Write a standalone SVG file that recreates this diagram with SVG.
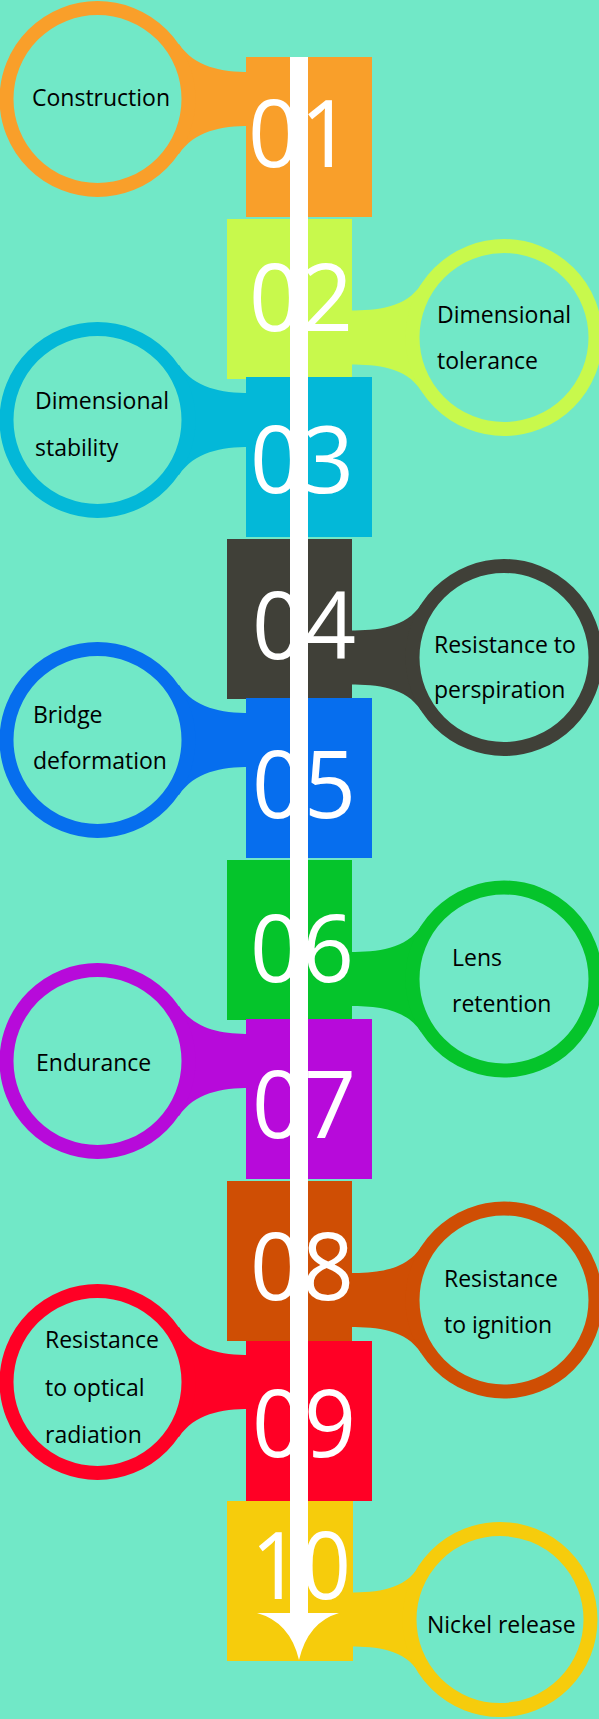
<svg xmlns="http://www.w3.org/2000/svg" width="599" height="1719" viewBox="0 0 599 1719">
<style>
.bg{fill:#71E8C7}
.ring{fill:#71E8C7;stroke-width:14}
.num{font-family:"Open Sans","Liberation Sans",sans-serif;font-size:94px;fill:#ffffff;text-anchor:middle}
.lbl{font-family:"Open Sans","Liberation Sans",sans-serif;font-size:23px;fill:#000000}
</style>
<rect class="bg" x="0" y="0" width="599" height="1719"/>

<g id="node01">
<path fill="#F99F2A" d="M250,72 C221,72 194.7,67.2 179,44 L150,59 L150,139 L179,154 C194.7,130.8 221,126 250,126 Z"/>
<circle class="ring" stroke="#F99F2A" cx="97.5" cy="99" r="91"/>
<rect fill="#F99F2A" x="246" y="57" width="126" height="160"/>
<text class="num" x="300" y="167" textLength="104" lengthAdjust="spacingAndGlyphs">01</text>
<text class="lbl" x="32" y="106">Construction</text>
</g>

<g id="node02">
<path fill="#C8F94C" d="M350,310.5 C377,310.5 406,308 421,284.5 L450,297.5 L450,377.5 L421,390.5 C406,367 377,364.5 350,364.5 Z"/>
<circle class="ring" stroke="#C8F94C" cx="504" cy="337.5" r="91.5"/>
<rect fill="#C8F94C" x="227" y="219" width="125" height="160"/>
<text class="num" x="301" y="331" textLength="104" lengthAdjust="spacingAndGlyphs">02</text>
<text class="lbl" x="437" y="323">Dimensional</text>
<text class="lbl" x="437" y="369">tolerance</text>
</g>

<g id="node03">
<path fill="#03B8D8" d="M250,393 C221,393 194.7,388.2 179,365 L150,380 L150,460 L179,475 C194.7,451.8 221,447 250,447 Z"/>
<circle class="ring" stroke="#03B8D8" cx="97.5" cy="420" r="91"/>
<rect fill="#03B8D8" x="246" y="377" width="126" height="160"/>
<text class="num" x="302" y="493" textLength="104" lengthAdjust="spacingAndGlyphs">03</text>
<text class="lbl" x="35" y="409">Dimensional</text>
<text class="lbl" x="35" y="456">stability</text>
</g>

<g id="node04">
<path fill="#404038" d="M350,630.5 C377,630.5 406,628 421,604.5 L450,617.5 L450,697.5 L421,710.5 C406,687 377,684.5 350,684.5 Z"/>
<circle class="ring" stroke="#404038" cx="504" cy="657.5" r="91.5"/>
<rect fill="#404038" x="227" y="539" width="125" height="160"/>
<text class="num" x="304" y="659" textLength="104" lengthAdjust="spacingAndGlyphs">04</text>
<text class="lbl" x="434" y="653">Resistance to</text>
<text class="lbl" x="434" y="698">perspiration</text>
</g>

<g id="node05">
<path fill="#066EEE" d="M250,713 C221,713 194.7,708.2 179,685 L150,700 L150,780 L179,795 C194.7,771.8 221,767 250,767 Z"/>
<circle class="ring" stroke="#066EEE" cx="97.5" cy="740" r="91"/>
<rect fill="#066EEE" x="246" y="698" width="126" height="160"/>
<text class="num" x="304" y="818" textLength="104" lengthAdjust="spacingAndGlyphs">05</text>
<text class="lbl" x="33" y="723">Bridge</text>
<text class="lbl" x="33" y="769">deformation</text>
</g>

<g id="node06">
<path fill="#05C42B" d="M350,952 C377,952 406,949.5 421,926 L450,939 L450,1019 L421,1032 C406,1008.5 377,1006 350,1006 Z"/>
<circle class="ring" stroke="#05C42B" cx="504" cy="979" r="91.5"/>
<rect fill="#05C42B" x="227" y="860" width="125" height="160"/>
<text class="num" x="302" y="982" textLength="104" lengthAdjust="spacingAndGlyphs">06</text>
<text class="lbl" x="452" y="966">Lens</text>
<text class="lbl" x="452" y="1012">retention</text>
</g>

<g id="node07">
<path fill="#B70ADA" d="M250,1034 C221,1034 194.7,1029.2 179,1006 L150,1021 L150,1101 L179,1116 C194.7,1092.8 221,1088 250,1088 Z"/>
<circle class="ring" stroke="#B70ADA" cx="97.5" cy="1061" r="91"/>
<rect fill="#B70ADA" x="246" y="1019" width="126" height="160"/>
<text class="num" x="304" y="1138" textLength="104" lengthAdjust="spacingAndGlyphs">07</text>
<text class="lbl" x="36" y="1071">Endurance</text>
</g>

<g id="node08">
<path fill="#CF4E04" d="M350,1273 C377,1273 406,1270.5 421,1247 L450,1260 L450,1340 L421,1353 C406,1329.5 377,1327 350,1327 Z"/>
<circle class="ring" stroke="#CF4E04" cx="504" cy="1300" r="91.5"/>
<rect fill="#CF4E04" x="227" y="1181" width="125" height="160"/>
<text class="num" x="302" y="1300" textLength="104" lengthAdjust="spacingAndGlyphs">08</text>
<text class="lbl" x="444" y="1287">Resistance</text>
<text class="lbl" x="444" y="1333">to ignition</text>
</g>

<g id="node09">
<path fill="#FF0025" d="M250,1355 C221,1355 194.7,1350.2 179,1327 L150,1342 L150,1422 L179,1437 C194.7,1413.8 221,1409 250,1409 Z"/>
<circle class="ring" stroke="#FF0025" cx="97.5" cy="1382" r="91"/>
<rect fill="#FF0025" x="246" y="1341" width="126" height="160"/>
<text class="num" x="304" y="1457" textLength="104" lengthAdjust="spacingAndGlyphs">09</text>
<text class="lbl" x="45" y="1348">Resistance</text>
<text class="lbl" x="45" y="1396">to optical</text>
<text class="lbl" x="45" y="1443">radiation</text>
</g>

<g id="node10">
<path fill="#F6CC0C" d="M350,1592.5 C377,1592.5 404,1590 419,1566.5 L446,1579.5 L446,1659.5 L419,1672.5 C404,1649 377,1646.5 350,1646.5 Z"/>
<circle class="ring" stroke="#F6CC0C" cx="500" cy="1619.5" r="90.5"/>
<rect fill="#F6CC0C" x="227" y="1501" width="126" height="160"/>
<text class="num" x="301" y="1599" textLength="100" lengthAdjust="spacingAndGlyphs">10</text>
<text class="lbl" x="427" y="1633">Nickel release</text>
</g>

<g id="connectors">
<rect x="290" y="57" width="18" height="1558" fill="#ffffff"/>
<path fill="#ffffff" d="M257,1613 L339,1613 Q308,1622 299,1660 Q290,1622 257,1613 Z"/>
</g>
</svg>
